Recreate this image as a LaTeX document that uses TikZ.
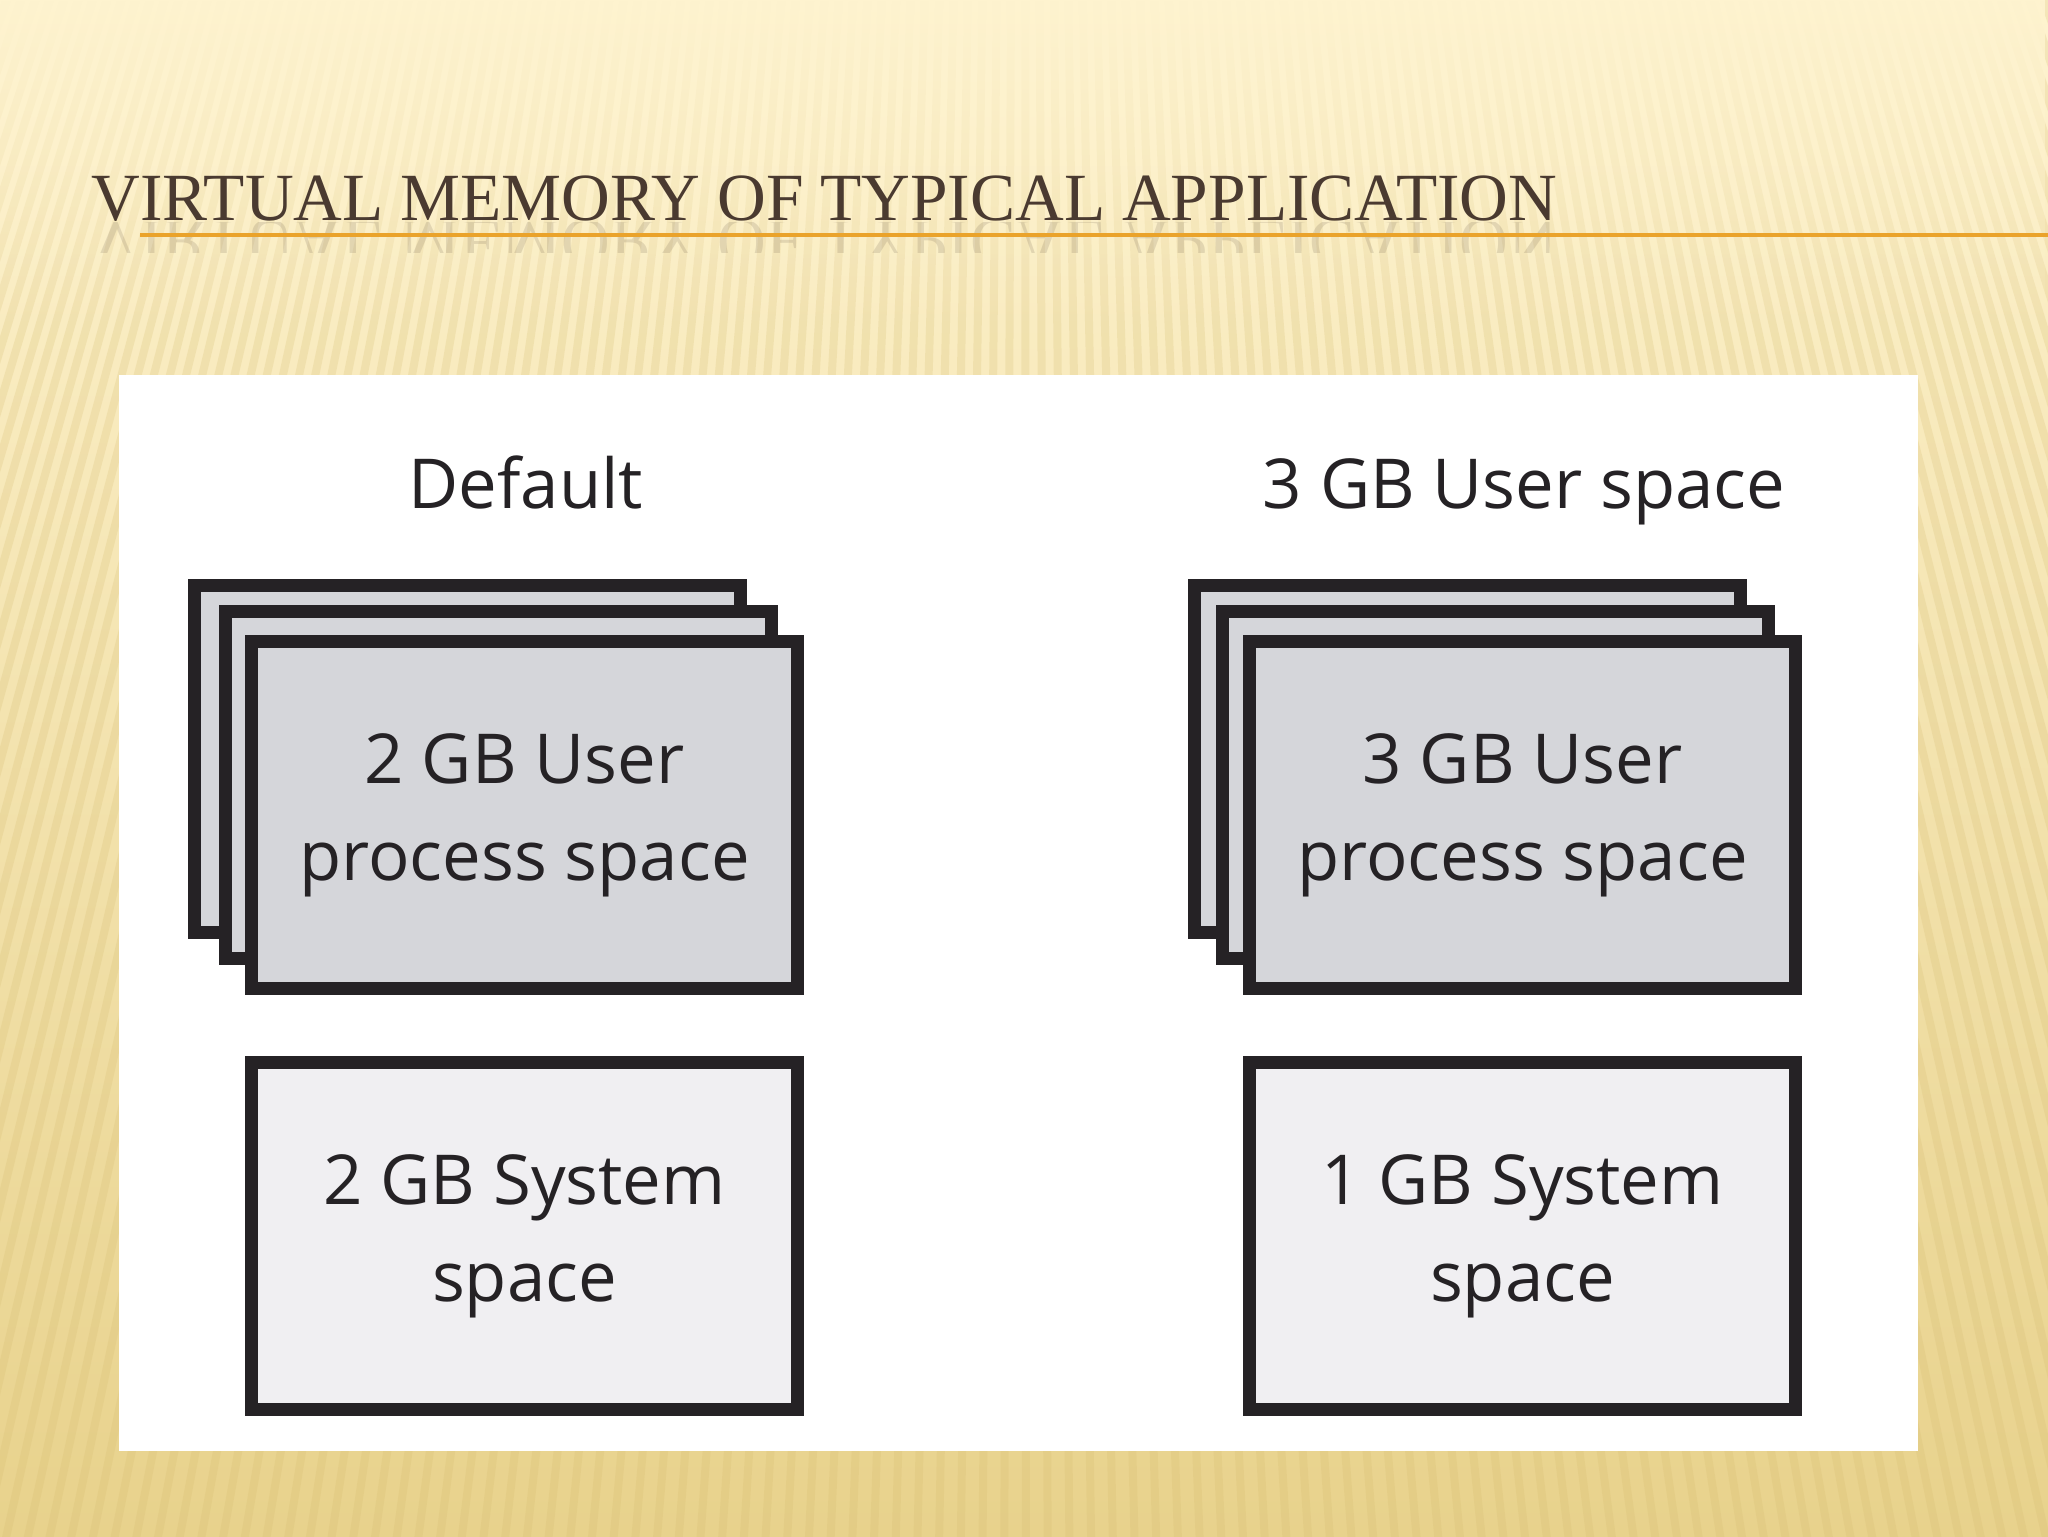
\documentclass[tikz,border=0pt]{standalone}
\usepackage{fontspec}
\setmainfont{Liberation Serif}
\newfontfamily\boxfont{Open Sans}
\usepackage{tikz}
\usetikzlibrary{fadings}
\definecolor{bgTop}{RGB}{254,243,207}
\definecolor{bgMid}{RGB}{250,233,182}
\definecolor{bgBot}{RGB}{232,210,140}
\definecolor{stripeInk}{RGB}{212,186,110}
\definecolor{titleInk}{RGB}{74,58,48}
\definecolor{ruleOrange}{RGB}{234,163,43}
\definecolor{boxInk}{RGB}{37,34,37}
\definecolor{userFill}{RGB}{213,214,218}
\definecolor{sysFill}{RGB}{240,239,242}
\tikzfading[name=fadeTop, top color=transparent!0, bottom color=transparent!100]
\tikzset{
  vBox/.style={draw=boxInk,line width=1.3mm,inner sep=0pt,minimum width=54.6mm,
        minimum height=34.7mm,align=center,text=boxInk,
        font=\boxfont\fontsize{19.6}{27.6}\selectfont},
  vUser/.style={vBox,fill=userFill},
  vSys/.style={vBox,fill=sysFill},
  vHead/.style={anchor=base,text=boxInk,font=\boxfont\fontsize{19.6}{24}\selectfont},
  vTitle/.style={anchor=base west,inner sep=0pt,text=titleInk,
        font=\fontsize{19.2}{22}\selectfont},
  vStripe/.style={draw=stripeInk,line width=.8mm,opacity=.22},
}

\begin{document}
\begin{tikzpicture}[x=0.1mm,y=-0.1mm]
\useasboundingbox (0,0) rectangle (2048,1536);
\shade[top color=bgTop,middle color=bgMid,bottom color=bgBot] (0,0) rectangle (2048,1536);
\begin{scope}
  \clip (0,0) rectangle (2048,1536);
  \foreach \i in {0,...,166}
    \draw[vStripe] (1024,-3000) -- (-800+22*\i,1600);
\end{scope}
\fill[bgTop,path fading=fadeTop] (0,0) rectangle (2048,330);

\begin{scope}
  \clip (0,222) rectangle (2048,252);
  \node[vTitle,yscale=-1,opacity=.14] (titleEcho) at (91,220) {VIRTUAL MEMORY OF TYPICAL APPLICATION};
\end{scope}
\draw[ruleOrange,line width=.45mm] (140,235) -- (2048,235);
\node[vTitle] (title) at (91,220) {VIRTUAL MEMORY OF TYPICAL APPLICATION};

\fill[white] (119,375) rectangle (1918,1451);

\node[vHead] (defHead) at (526,508) {Default};
\node[vHead] (bigHead) at (1524,508) {3 GB User space};

\node[vUser] (defBack) at (467.5,759) {};
\node[vUser] (defMid)  at (498.5,785) {};
\node[vUser] (defUser) at (524.5,815) {2 GB User\\process space};
\node[vSys]  (defSys)  at (524.5,1236) {2 GB System\\space};

\node[vUser] (bigBack) at (1467.5,759) {};
\node[vUser] (bigMid)  at (1495.5,785) {};
\node[vUser] (bigUser) at (1522.5,815) {3 GB User\\process space};
\node[vSys]  (bigSys)  at (1522.5,1236) {1 GB System\\space};
\end{tikzpicture}
\end{document}
